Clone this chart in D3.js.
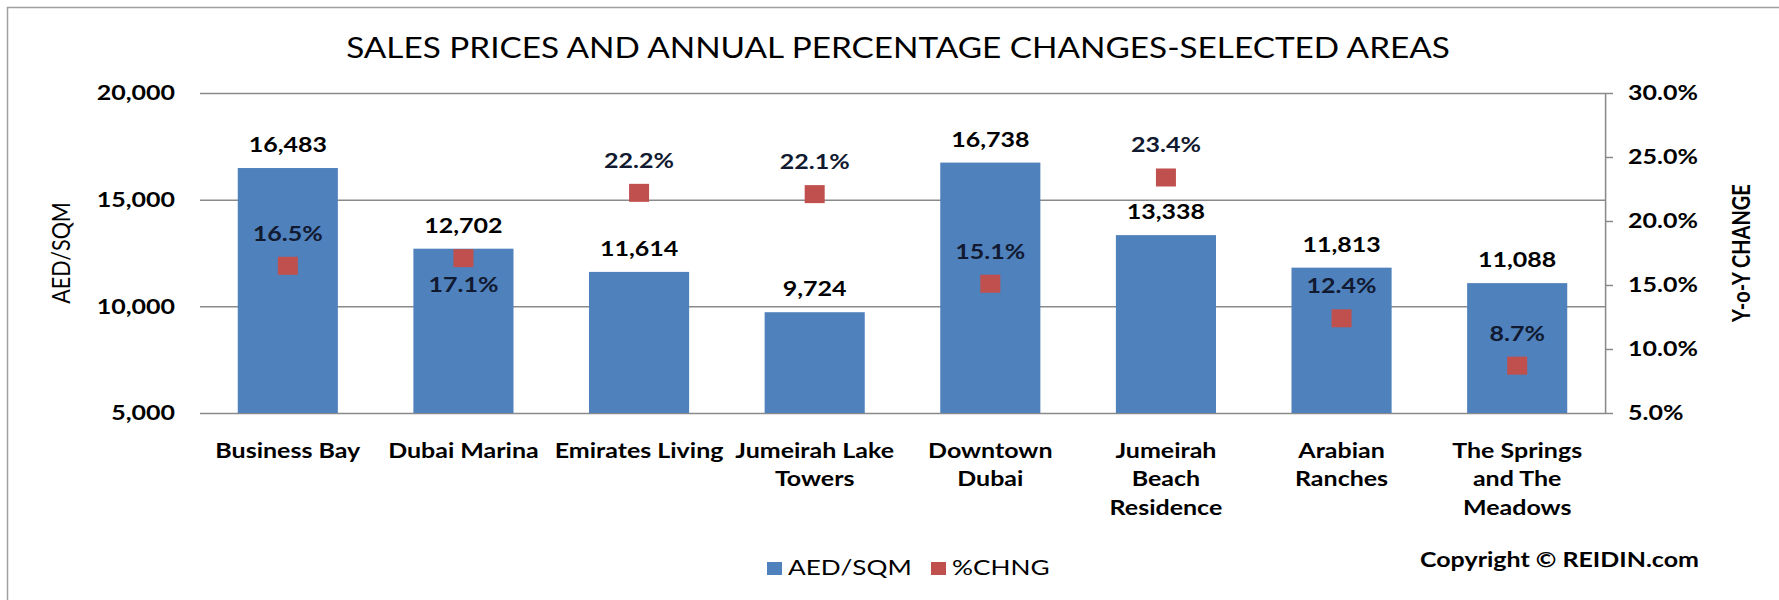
<!DOCTYPE html>
<html>
<head>
<meta charset="utf-8">
<script src="https://cdn.jsdelivr.net/npm/d3@7"></script>
<style>
  body { margin: 0; background: #fff; }
  svg text { font-family: Lato, "DejaVu Sans", sans-serif; fill: #000; }
</style>
</head>
<body>
<div id="chart"></div>
<script>
// data
const categories = ["Business Bay", "Dubai Marina", "Emirates Living", "Jumeirah Lake Towers",
  "Downtown Dubai", "Jumeirah Beach Residence", "Arabian Ranches", "The Springs and The Meadows"]
const categoryLines = [["Business Bay"], ["Dubai Marina"], ["Emirates Living"], ["Jumeirah Lake", "Towers"],
  ["Downtown", "Dubai"], ["Jumeirah", "Beach", "Residence"], ["Arabian", "Ranches"], ["The Springs", "and The", "Meadows"]]
const aedSqm = [16483, 12702, 11614, 9724, 16738, 13338, 11813, 11088]
const pctChange = [16.5, 17.1, 22.2, 22.1, 15.1, 23.4, 12.4, 8.7]
const leftTicks = [5000, 10000, 15000, 20000]
const rightTicks = [5, 10, 15, 20, 25, 30]
const seriesNames = ["AED/SQM", "%CHNG"]

const W = 1779, H = 600
// the original picture is stretched sideways, so draw in a narrower frame and widen it
const K = 1.19
const sx = v => v / K
const plot = { left: 200, right: 1605, top: 93, bottom: 413 }
const barColor = "#4F81BD", markColor = "#C0504D", gridColor = "#8a8a8a"
// labels that sit under their marker instead of above
const pctBelow = ["Dubai Marina"]

const svg = d3.select("#chart").append("svg")
  .attr("width", W)
  .attr("height", H)

// outer frame (only top and left edges are in view)
svg.append("path")
  .attr("d", `M7.5,${H} V7.5 H${W}`)
  .attr("fill", "none")
  .attr("stroke", "#a0a0a0")
  .attr("stroke-width", 1.5)

const root = svg.append("g").attr("transform", `scale(${K},1)`)

root.append("text")
  .attr("x", sx(898))
  .attr("y", 58)
  .attr("text-anchor", "middle")
  .style("font-size", "28px")
  .text("SALES PRICES AND ANNUAL PERCENTAGE CHANGES-SELECTED AREAS")

const x = d3.scaleBand()
  .domain(categories)
  .range([sx(plot.left), sx(plot.right)])
  .paddingInner(0.43)
  .paddingOuter(0.215)

const y = d3.scaleLinear().domain([5000, 20000]).range([plot.bottom, plot.top])
const y2 = d3.scaleLinear().domain([5, 30]).range([plot.bottom, plot.top])

// left axis with gridlines
const gl = root.append("g")
  .attr("transform", `translate(${sx(plot.left)},0)`)
  .call(d3.axisLeft(y).tickValues(leftTicks).tickFormat(d3.format(","))
    .tickSize(-(sx(plot.right) - sx(plot.left))).tickPadding(sx(25)))
gl.select(".domain").remove()
gl.selectAll(".tick line").attr("stroke", gridColor).attr("stroke-width", 1.5)
gl.selectAll(".tick text").style("font-size", "21px").style("font-weight", "bold")

// bars
root.append("g").selectAll("rect")
  .data(aedSqm)
  .enter()
  .append("rect")
  .attr("x", (d, i) => x(categories[i]))
  .attr("width", x.bandwidth())
  .attr("y", d => y(d))
  .attr("height", d => y(5000) - y(d))
  .attr("fill", barColor)

// right axis
const gr = root.append("g")
  .attr("transform", `translate(${sx(plot.right)},0)`)
  .call(d3.axisRight(y2).tickValues(rightTicks).tickFormat(d => d.toFixed(1) + "%")
    .tickSize(sx(8)).tickSizeOuter(0).tickPadding(sx(15)))
gr.select(".domain").attr("stroke", gridColor).attr("stroke-width", 1.3)
gr.selectAll(".tick line").attr("stroke", gridColor).attr("stroke-width", 1.5)
gr.selectAll(".tick text").style("font-size", "21px").style("font-weight", "bold")

// bar value labels
root.append("g").selectAll("text")
  .data(aedSqm)
  .enter()
  .append("text")
  .attr("x", (d, i) => x(categories[i]) + x.bandwidth() / 2)
  .attr("y", d => y(d) - 16)
  .attr("text-anchor", "middle")
  .style("font-size", "21px")
  .style("font-weight", "bold")
  .text(d3.format(","))

// % change markers
const mw = sx(20), mh = 18
root.append("g").selectAll("rect")
  .data(pctChange)
  .enter()
  .append("rect")
  .attr("x", (d, i) => x(categories[i]) + x.bandwidth() / 2 - mw / 2)
  .attr("y", d => y2(d) - mh / 2)
  .attr("width", mw)
  .attr("height", mh)
  .attr("fill", markColor)

root.append("g").selectAll("text")
  .data(pctChange)
  .enter()
  .append("text")
  .attr("x", (d, i) => x(categories[i]) + x.bandwidth() / 2)
  .attr("y", (d, i) => pctBelow.includes(categories[i]) ? y2(d) + 34 : y2(d) - 25)
  .attr("text-anchor", "middle")
  .style("font-size", "21px")
  .style("font-weight", "bold")
  .style("fill", "#111a30")
  .text(d => d.toFixed(1) + "%")

// category labels
const cat = root.append("g").selectAll("text")
  .data(categories)
  .enter()
  .append("text")
  .attr("text-anchor", "middle")
  .style("font-size", "21px")
  .style("font-weight", "bold")
cat.selectAll("tspan")
  .data((d, i) => categoryLines[i].map(t => ({ t, c: d })))
  .enter()
  .append("tspan")
  .attr("x", d => x(d.c) + x.bandwidth() / 2)
  .attr("y", (d, j) => plot.bottom + 45 + j * 28.5)
  .text(d => d.t)

// axis titles
root.append("text")
  .attr("transform", `translate(${sx(70)},${(plot.top + plot.bottom) / 2}) rotate(-90)`)
  .attr("text-anchor", "middle")
  .style("font-size", "21.5px")
  .text("AED/SQM")

root.append("text")
  .attr("transform", `translate(${sx(1750)},${(plot.top + plot.bottom) / 2}) rotate(-90)`)
  .attr("text-anchor", "middle")
  .style("font-size", "20px")
  .style("font-weight", "bold")
  .text("Y-o-Y CHANGE")

// legend
const legendX = [767, 931]
const legendColors = [barColor, markColor]
const lg = root.append("g").selectAll("g")
  .data(seriesNames)
  .enter()
  .append("g")
  .attr("transform", (d, i) => `translate(${sx(legendX[i])},0)`)
lg.append("rect")
  .attr("y", 562)
  .attr("width", sx(15))
  .attr("height", 13)
  .attr("fill", (d, i) => legendColors[i])
lg.append("text")
  .attr("x", sx(21))
  .attr("y", 575)
  .style("font-size", "22px")
  .text(d => d)

root.append("text")
  .attr("x", sx(1420))
  .attr("y", 567)
  .style("font-size", "21px")
  .style("font-weight", "bold")
  .text("Copyright © REIDIN.com")
</script>
</body>
</html>
